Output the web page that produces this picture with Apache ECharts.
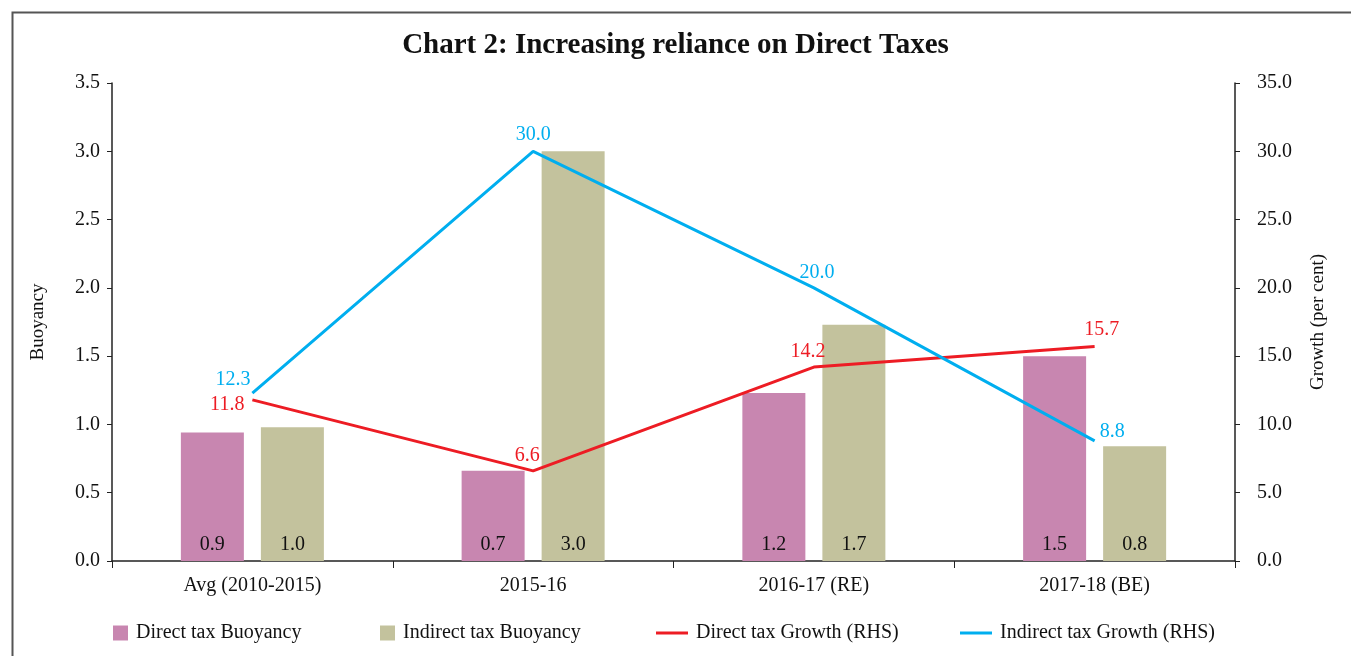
<!DOCTYPE html>
<html>
<head>
<meta charset="utf-8">
<script src="https://cdn.jsdelivr.net/npm/echarts@6/dist/echarts.min.js"></script>
<style>
  html, body { margin: 0; padding: 0; background: #fff; }
  #chart { width: 1351px; height: 656px; }
</style>
</head>
<body>
<div id="chart"></div>
<script>
const categories = ['Avg (2010-2015)', '2015-16', '2016-17 (RE)', '2017-18 (BE)']
const directBuoyancy = [0.94, 0.66, 1.23, 1.50]
const indirectBuoyancy = [0.98, 3.0, 1.73, 0.84]
const directGrowth = [11.8, 6.6, 14.2, 15.7]
const indirectGrowth = [12.3, 30.0, 20.0, 8.8]

// where each line label sits relative to its point
const directGrowthLabels = [
  { position: 'left', distance: 8, offset: [0, 5] },
  { position: 'top', offset: [-6, 2] },
  { position: 'top', offset: [-6, 2] },
  { position: 'top', offset: [7, 0] }
]
const indirectGrowthLabels = [
  { position: 'left', distance: 2, offset: [0, -13] },
  { position: 'top' },
  { position: 'top', offset: [3, 2] },
  { position: 'right', distance: 5, offset: [0, -9] }
]

const font = 'Liberation Serif'
const txt = { fontFamily: font, fontSize: 20, color: '#111' }

const chart = echarts.init(document.getElementById('chart'))

function oneDec(p) {
  return Number(p.value).toFixed(1)
}

chart.setOption({
  animation: false,
  title: {
    text: 'Chart 2: Increasing reliance on Direct Taxes',
    left: 'center', top: 26,
    textStyle: { fontFamily: font, fontSize: 29, fontWeight: 'bold', color: '#111' }
  },
  graphic: [{
    type: 'rect', left: 10, top: 10,
    shape: { width: 1400, height: 700 },
    style: { fill: 'none', stroke: '#555', lineWidth: 2 },
    silent: true
  }],
  legend: [
    { data: ['Direct tax Buoyancy'], left: 108, top: 618, icon: 'rect', itemWidth: 15, itemHeight: 15 },
    { data: ['Indirect tax Buoyancy'], left: 375, top: 618, icon: 'rect', itemWidth: 15, itemHeight: 15 },
    { data: ['Direct tax Growth (RHS)'], left: 651, top: 618, icon: 'rect', itemWidth: 32, itemHeight: 3 },
    { data: ['Indirect tax Growth (RHS)'], left: 955, top: 618, icon: 'rect', itemWidth: 32, itemHeight: 3 }
  ].map(function (l) {
    return Object.assign({
      itemGap: 10,
      textStyle: Object.assign({}, txt, { fontSize: 20, padding: [0, 0, 0, 3] })
    }, l)
  }),
  grid: { left: 112, right: 116, top: 83, bottom: 95 },
  xAxis: {
    type: 'category', data: categories,
    axisLine: { lineStyle: { color: '#222', width: 1.5 } },
    axisTick: { show: true, length: 7, lineStyle: { color: '#222' } },
    axisLabel: Object.assign({}, txt, { margin: 15 })
  },
  yAxis: [{
    type: 'value', min: 0, max: 3.5, interval: 0.5,
    name: 'Buoyancy', nameLocation: 'middle', nameGap: 64, nameRotate: 90,
    nameTextStyle: Object.assign({}, txt, { fontSize: 19 }),
    axisLine: { show: true, lineStyle: { color: '#222', width: 1.5 } },
    axisTick: { show: true, length: 5, lineStyle: { color: '#222' } },
    splitLine: { show: false },
    axisLabel: Object.assign({}, txt, { margin: 12, formatter: function (v) { return v.toFixed(1) } })
  }, {
    type: 'value', min: 0, max: 35, interval: 5,
    name: 'Growth (per cent)', nameLocation: 'middle', nameGap: 74, nameRotate: 90,
    nameTextStyle: Object.assign({}, txt, { fontSize: 19 }),
    axisLine: { show: true, lineStyle: { color: '#222', width: 1.5 } },
    axisTick: { show: true, length: 5, lineStyle: { color: '#222' } },
    splitLine: { show: false },
    axisLabel: Object.assign({}, txt, { margin: 22, formatter: function (v) { return v.toFixed(1) } })
  }],
  series: [{
    name: 'Direct tax Buoyancy', type: 'bar', data: directBuoyancy,
    barWidth: 63, barGap: '27%',
    itemStyle: { color: '#c886b0' },
    label: { show: true, position: 'insideBottom', distance: 6, formatter: oneDec, fontFamily: font, fontSize: 20, color: '#111' }
  }, {
    name: 'Indirect tax Buoyancy', type: 'bar', data: indirectBuoyancy,
    barWidth: 63,
    itemStyle: { color: '#c3c29d' },
    label: { show: true, position: 'insideBottom', distance: 6, formatter: oneDec, fontFamily: font, fontSize: 20, color: '#111' }
  }, {
    name: 'Direct tax Growth (RHS)', type: 'line', yAxisIndex: 1,
    data: directGrowth.map(function (v, i) { return { value: v, label: directGrowthLabels[i] } }),
    symbol: 'circle', symbolSize: 0, showSymbol: true,
    lineStyle: { color: '#ed1c24', width: 3 }, itemStyle: { color: '#ed1c24' },
    label: { show: true, distance: 7, formatter: oneDec, fontFamily: font, fontSize: 20, color: '#ed1c24' }
  }, {
    name: 'Indirect tax Growth (RHS)', type: 'line', yAxisIndex: 1,
    data: indirectGrowth.map(function (v, i) { return { value: v, label: indirectGrowthLabels[i] } }),
    symbol: 'circle', symbolSize: 0, showSymbol: true,
    lineStyle: { color: '#00aeef', width: 3 }, itemStyle: { color: '#00aeef' },
    label: { show: true, distance: 7, formatter: oneDec, fontFamily: font, fontSize: 20, color: '#00aeef' }
  }]
})
</script>
</body>
</html>
